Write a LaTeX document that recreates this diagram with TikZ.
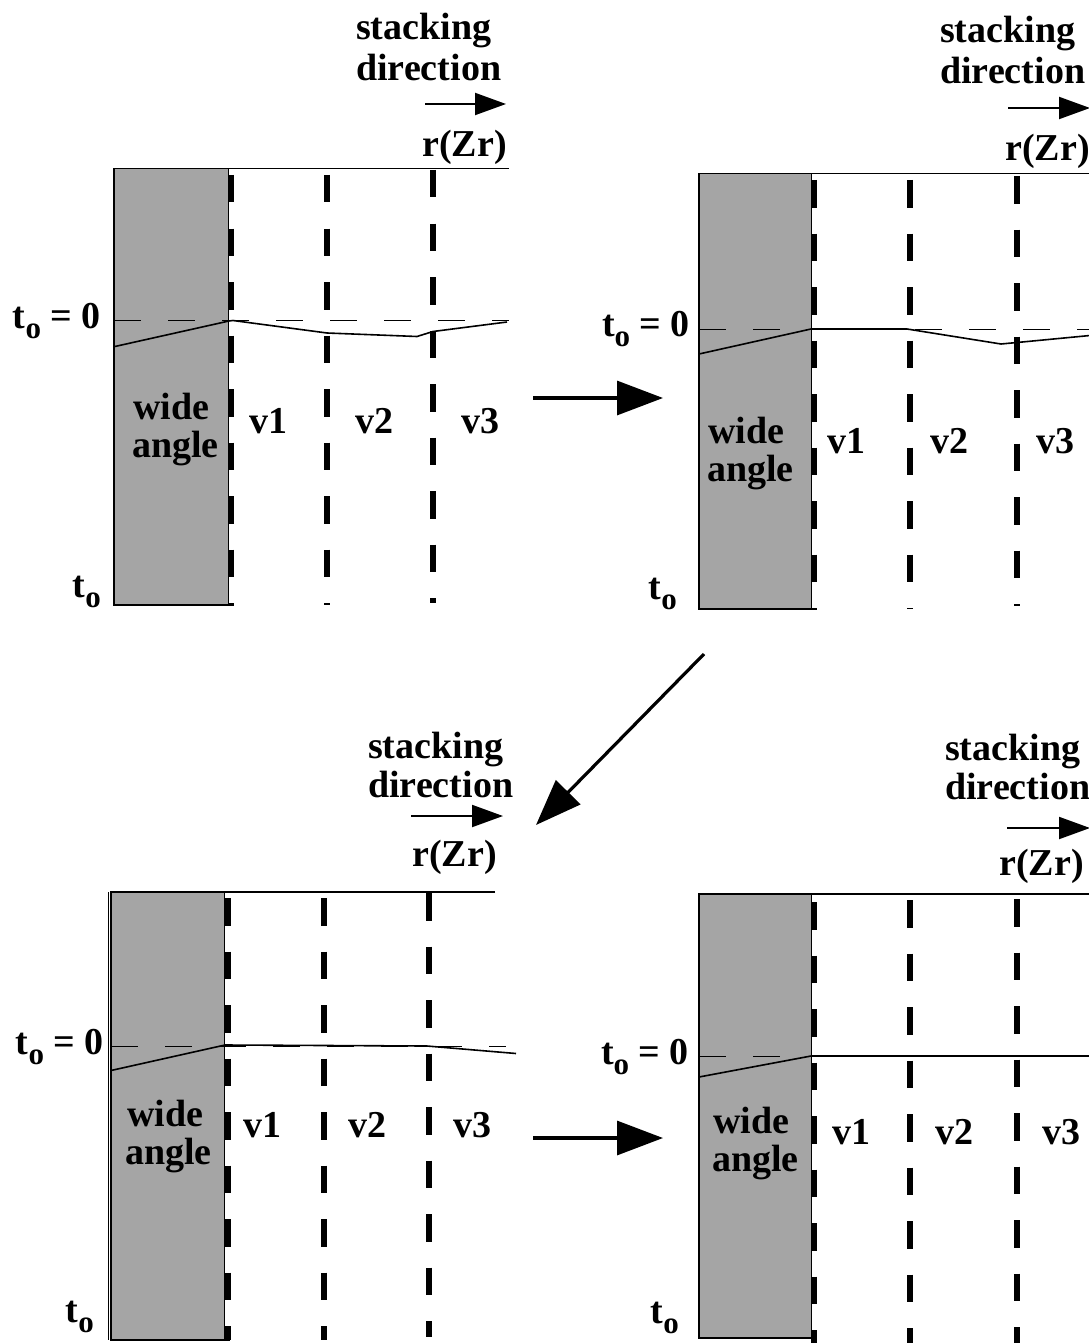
\documentclass[tikz,border=0pt]{standalone}
\usepackage{fontspec}
\setmainfont{Liberation Serif}
\usetikzlibrary{arrows.meta}

\definecolor{bandgray}{RGB}{165,165,165}

% t with a subscript o
\newcommand\tsub{t\raisebox{-0.28em}{\fontsize{31}{31}\selectfont o}}

\tikzset{
  lbl/.style={font=\fontsize{38}{44}\selectfont\bfseries, inner sep=0pt, anchor=base west},
  lble/.style={lbl, anchor=base east},
  frame/.style={line width=1.3pt},
  band/.style={fill=bandgray, draw=none},
  sliceline/.style={line width=6pt, dash pattern=on 27.5pt off 26pt},
  zeroline/.style={line width=1pt, dash pattern=on 27pt off 27pt},
  front/.style={line width=1.6pt, line join=round},
  stackarrow/.style={line width=2pt, -{Triangle[length=31pt,width=22pt]}},
  steparrow/.style={line width=3.2pt, -{Triangle[length=46pt,width=34pt]}},
}

\begin{document}
\begin{tikzpicture}[x=1pt,y=-1pt]
\useasboundingbox (0,0) rectangle (1088,1343);

%================ panel 1 (top left)
\fill[band] (114,168.5) rectangle (228,605);
\draw[zeroline] (114,320) -- (509,320);
\draw[frame] (509,168.5) -- (114,168.5) -- (114,605) -- (234,605);
\draw[line width=1pt] (228,168.5) -- (228,605);
\draw[sliceline] (231,175) -- (231,605);
\draw[sliceline] (327,175) -- (327,605);
\draw[sliceline] (433,170) -- (433,603);
\draw[front] (114,346.7) -- (229,321) -- (233,320.5) -- (327,333) -- (417,336.5) -- (433,331.5) -- (507,322);
\node[lbl] (p1wide) at (133,419) {wide};
\node[lbl] (p1angle) at (132,457) {angle};
\node[lbl] (p1v1) at (249,433) {v1};
\node[lbl] (p1v2) at (355,433) {v2};
\node[lbl] (p1v3) at (461,433) {v3};
\node[lble] (p1zero) at (101,328) {\tsub\ = 0};
\node[lble] (p1t) at (101,597) {\tsub};
\node[lbl] (p1stack) at (356,40) {stacking};
\node[lbl] (p1dir) at (356,81) {direction};
\node[lble] (p1r) at (507,157) {r(Zr)};
\coordinate (p1as) at (425,104);
\coordinate (p1ae) at (506,104);
\draw[stackarrow] (p1as) -- (p1ae);

%================ panel 2 (top right)
\fill[band] (699,173.5) rectangle (811,609);
\draw[zeroline] (699,329) -- (1090,329);
\draw[frame] (1090,173.5) -- (699,173.5) -- (699,609) -- (817,609);
\draw[line width=1pt] (811,173.5) -- (811,609);
\draw[sliceline] (814,180) -- (814,609);
\draw[sliceline] (910,180) -- (910,609);
\draw[sliceline] (1017,176) -- (1017,606);
\draw[front] (699,354) -- (811,329) -- (907,329) -- (1001,344) -- (1017,342.5) -- (1090,335.5);
\node[lbl] (p2wide) at (708,443) {wide};
\node[lbl] (p2angle) at (707,481) {angle};
\node[lbl] (p2v1) at (827,453) {v1};
\node[lbl] (p2v2) at (930,453) {v2};
\node[lbl] (p2v3) at (1036,453) {v3};
\node[lble] (p2zero) at (690,336) {\tsub\ = 0};
\node[lble] (p2t) at (677,599) {\tsub};
\node[lbl] (p2stack) at (940,43) {stacking};
\node[lbl] (p2dir) at (940,84) {direction};
\node[lble] (p2r) at (1090,161) {r(Zr)};
\coordinate (p2as) at (1008,108);
\coordinate (p2ae) at (1090,108);
\draw[stackarrow] (p2as) -- (p2ae);

%================ panel 3 (bottom left)
\fill[band] (111,892) rectangle (224.5,1340);
\draw[zeroline] (111,1046) -- (506,1046);
\draw[frame] (495,892) -- (111,892) -- (111,1340) -- (230,1340);
\draw[line width=0.8pt] (108,892) -- (108,1340);
\draw[line width=1pt] (224.5,892) -- (224.5,1340);
\draw[sliceline] (228,898) -- (228,1340);
\draw[sliceline] (324,898) -- (324,1340);
\draw[sliceline] (429,893) -- (429,1337);
\draw[front] (111,1070.5) -- (225,1045) -- (427,1046) -- (516,1053.5);
\node[lbl] (p3wide) at (127,1126) {wide};
\node[lbl] (p3angle) at (125,1164) {angle};
\node[lbl] (p3v1) at (243,1137) {v1};
\node[lbl] (p3v2) at (348,1137) {v2};
\node[lbl] (p3v3) at (453,1137) {v3};
\node[lble] (p3zero) at (104,1054) {\tsub\ = 0};
\node[lble] (p3t) at (94,1322) {\tsub};
\node[lbl] (p3stack) at (368,758) {stacking};
\node[lbl] (p3dir) at (368,797) {direction};
\node[lble] (p3r) at (497,866) {r(Zr)};
\coordinate (p3as) at (411,816);
\coordinate (p3ae) at (503,816);
\draw[stackarrow] (p3as) -- (p3ae);

%================ panel 4 (bottom right)
\fill[band] (699,894) rectangle (811,1338);
\draw[zeroline] (699,1056) -- (811,1056);
\draw[frame] (1090,894) -- (699,894) -- (699,1338) -- (817,1338);
\draw[line width=1pt] (811,894) -- (811,1338);
\draw[sliceline] (814,902) -- (814,1343);
\draw[sliceline] (910,900) -- (910,1343);
\draw[sliceline] (1017,899) -- (1017,1343);
\draw[front] (699,1077) -- (811,1056) -- (1090,1056);
\node[lbl] (p4wide) at (713,1133) {wide};
\node[lbl] (p4angle) at (712,1171) {angle};
\node[lbl] (p4v1) at (832,1144) {v1};
\node[lbl] (p4v2) at (935,1144) {v2};
\node[lbl] (p4v3) at (1042,1144) {v3};
\node[lble] (p4zero) at (689,1064) {\tsub\ = 0};
\node[lble] (p4t) at (679,1323) {\tsub};
\node[lbl] (p4stack) at (945,760) {stacking};
\node[lbl] (p4dir) at (945,799) {direction};
\node[lble] (p4r) at (1084,875) {r(Zr)};
\coordinate (p4as) at (1007,828);
\coordinate (p4ae) at (1090,828);
\draw[stackarrow] (p4as) -- (p4ae);

%================ steps between the panels
\coordinate (s1a) at (533,398);
\coordinate (s1b) at (663,398);
\coordinate (s2a) at (704,654);
\coordinate (s2b) at (536,825);
\coordinate (s3a) at (533,1138);
\coordinate (s3b) at (663,1138);
\draw[steparrow] (s1a) -- (s1b);
\draw[steparrow] (s2a) -- (s2b);
\draw[steparrow] (s3a) -- (s3b);
\end{tikzpicture}
\end{document}
